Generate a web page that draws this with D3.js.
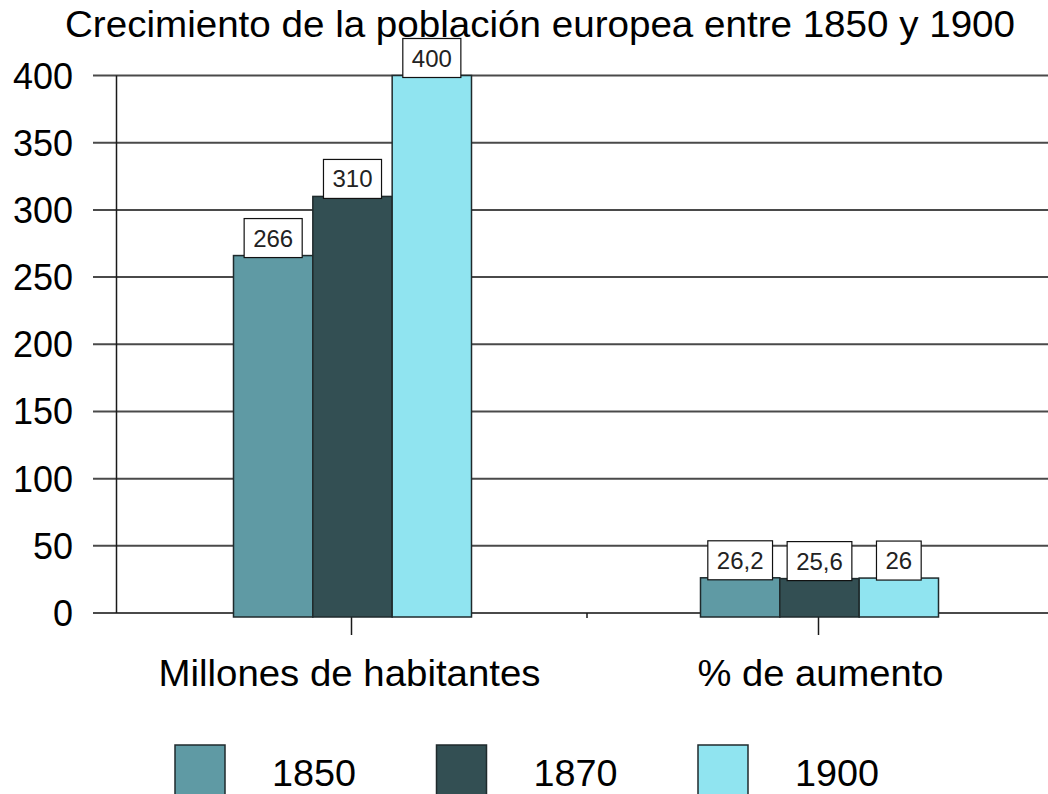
<!DOCTYPE html>
<html>
<head>
<meta charset="utf-8">
<script src="https://cdn.jsdelivr.net/npm/d3@7"></script>
<style>
  html, body { margin: 0; padding: 0; background: #fff; }
  svg { display: block; font-family: "Liberation Sans", Arial, sans-serif; }
</style>
</head>
<body>
<svg id="chart" width="1048" height="794"></svg>
<script>
// Población europea (millones) y porcentaje de aumento
const categories = ["Millones de habitantes", "% de aumento"];
const years = ["1850", "1870", "1900"];
const values1850 = [266, 26.2];
const values1870 = [310, 25.6];
const values1900 = [400, 26];
const yTicks = [0, 50, 100, 150, 200, 250, 300, 350, 400];
const colors = ["#5f9aa4", "#334f53", "#90e4f0"];
const title = "Crecimiento de la población europea entre 1850 y 1900";

const seriesValues = [values1850, values1870, values1900];
const rows = categories.map((c, i) => ({
  category: c,
  values: years.map((yr, j) => ({ year: yr, value: seriesValues[j][i], color: colors[j] }))
}));

const es = d3.formatLocale({ decimal: ",", thousands: ".", grouping: [3], currency: ["", " €"] });
const fmt = v => Number.isInteger(v) ? String(v) : es.format(".1f")(v);

const svg = d3.select("#chart");

const y = d3.scaleLinear().domain([0, 400]).range([613, 75.5]);
const x0 = d3.scaleBand().domain(categories).range([118, 1052]).paddingInner(0).paddingOuter(0);
const groupWidth = 238;
const x1 = d3.scaleBand().domain(years).range([0, groupWidth]).padding(0);

// Título
svg.append("text")
  .attr("x", 65).attr("y", 37)
  .attr("font-size", 37)
  .attr("textLength", 950)
  .attr("lengthAdjust", "spacingAndGlyphs")
  .attr("fill", "#000")
  .text(title);

// Líneas de cuadrícula horizontales (con la marca a la izquierda del eje)
svg.append("g").selectAll("line")
  .data(yTicks).join("line")
  .attr("x1", 93).attr("x2", 1048)
  .attr("y1", d => y(d)).attr("y2", d => y(d))
  .attr("stroke", "#4a4a4a").attr("stroke-width", 2);

// Etiquetas del eje Y
svg.append("g").selectAll("text")
  .data(yTicks).join("text")
  .attr("x", 73).attr("y", d => y(d) + 13)
  .attr("text-anchor", "end")
  .attr("font-size", 36)
  .attr("fill", "#000")
  .text(d => d);

// Eje vertical
svg.append("line")
  .attr("x1", 116.5).attr("x2", 116.5)
  .attr("y1", y(400)).attr("y2", y(0))
  .attr("stroke", "#1a1a1a").attr("stroke-width", 1.5);

// Marcas del eje de categorías
svg.append("g").selectAll("line")
  .data(categories).join("line")
  .attr("x1", d => x0(d) + x0.bandwidth() / 2).attr("x2", d => x0(d) + x0.bandwidth() / 2)
  .attr("y1", y(0)).attr("y2", y(0) + 22)
  .attr("stroke", "#1a1a1a").attr("stroke-width", 1.5);
svg.append("line")
  .attr("x1", x0(categories[1]) + 2).attr("x2", x0(categories[1]) + 2)
  .attr("y1", y(0)).attr("y2", y(0) + 5)
  .attr("stroke", "#1a1a1a").attr("stroke-width", 1.5);

// Barras
const groups = svg.append("g").selectAll("g")
  .data(rows).join("g")
  .attr("transform", d => `translate(${x0(d.category) + x0.bandwidth() / 2 - groupWidth / 2 + 1},0)`);

groups.selectAll("rect")
  .data(d => d.values).join("rect")
  .attr("x", d => x1(d.year))
  .attr("width", x1.bandwidth())
  .attr("y", d => y(d.value))
  .attr("height", d => y(0) - y(d.value) + 4)
  .attr("fill", d => d.color)
  .attr("stroke", "#1f2a2c").attr("stroke-width", 1.5);

// Etiquetas de valor en recuadros blancos
const labels = groups.selectAll("g.lbl")
  .data(d => d.values).join("g").attr("class", "lbl");

labels.each(function(d) {
  const g = d3.select(this);
  const cx = x1(d.year) + x1.bandwidth() / 2;
  const bottom = y(d.value) + 2;
  const t = g.append("text")
    .attr("x", cx).attr("y", bottom - 11)
    .attr("text-anchor", "middle")
    .attr("font-size", 24)
    .attr("fill", "#222")
    .text(fmt(d.value));
  const w = t.node().getComputedTextLength() + 18;
  g.insert("rect", "text")
    .attr("x", cx - w / 2).attr("y", bottom - 39)
    .attr("width", w).attr("height", 39)
    .attr("fill", "#fff")
    .attr("stroke", "#111").attr("stroke-width", 1.2);
});

// Nombres de categoría
const catWidths = [382, 246];
svg.append("g").selectAll("text")
  .data(categories).join("text")
  .attr("x", (d, i) => x0(d) + x0.bandwidth() / 2 + (i === 0 ? -2 : 2) - catWidths[i] / 2)
  .attr("y", 686)
  .attr("font-size", 36)
  .attr("textLength", (d, i) => catWidths[i])
  .attr("lengthAdjust", "spacingAndGlyphs")
  .attr("fill", "#000")
  .text(d => d);

// Leyenda
const legend = svg.append("g").selectAll("g")
  .data(years).join("g")
  .attr("transform", (d, i) => `translate(${175 + i * 261.5},0)`);
legend.append("rect")
  .attr("x", 0).attr("y", 745)
  .attr("width", 50).attr("height", 60)
  .attr("fill", (d, i) => colors[i])
  .attr("stroke", "#1f2a2c").attr("stroke-width", 1.5);
legend.append("text")
  .attr("x", 97).attr("y", 786)
  .attr("font-size", 37)
  .attr("textLength", 84)
  .attr("lengthAdjust", "spacingAndGlyphs")
  .attr("fill", "#000")
  .text(d => d);
</script>
</body>
</html>
